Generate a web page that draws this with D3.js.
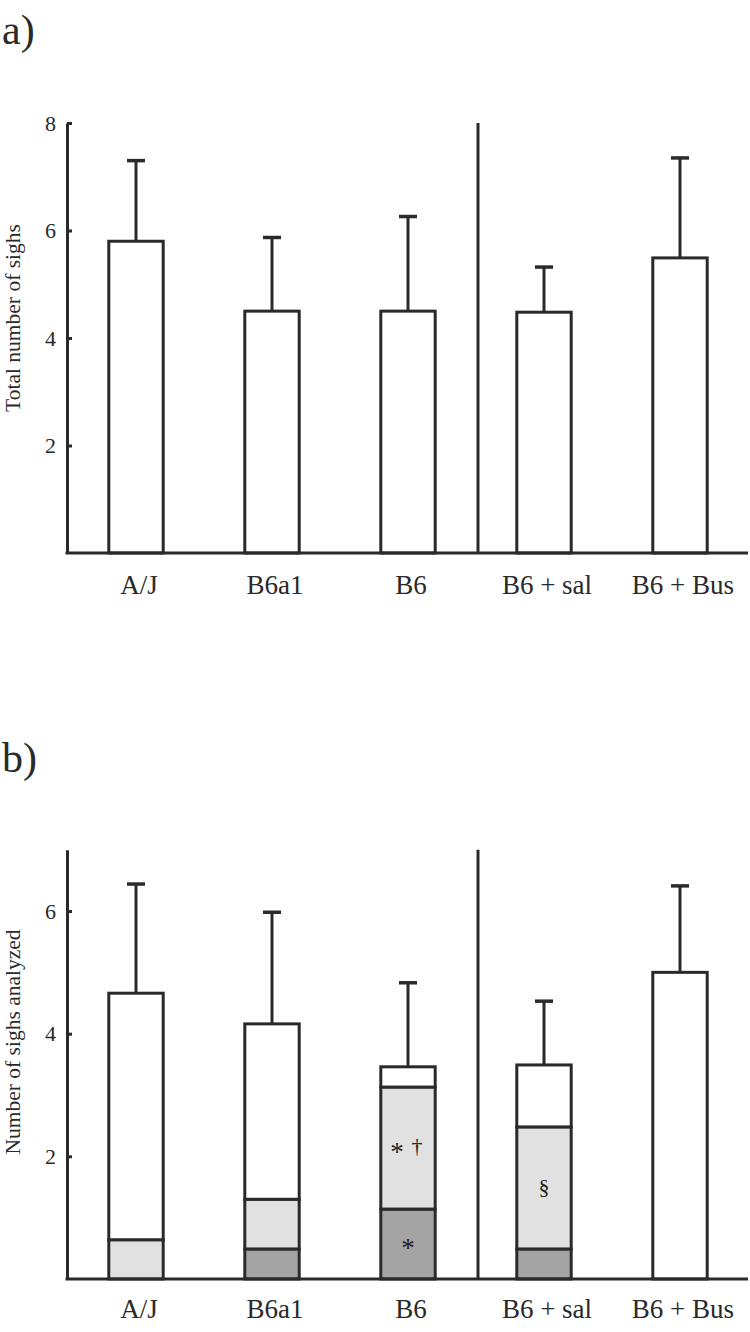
<!DOCTYPE html>
<html>
<head>
<meta charset="utf-8">
<script src="https://cdn.jsdelivr.net/npm/d3@7/dist/d3.min.js"></script>
<style>
  html, body { margin: 0; padding: 0; background: #fff; }
  svg { display: block; }
  text { font-family: "Liberation Serif", "Times New Roman", serif; fill: #2a2a2a; }
</style>
</head>
<body>
<svg id="chart" width="750" height="1332"></svg>
<script>
// ---------- data ----------
const categories = ["A/J", "B6a1", "B6", "B6 + sal", "B6 + Bus"];

// panel a: total number of sighs (mean and upper end of error bar)
const totalMean  = [5.80, 4.50, 4.50, 4.48, 5.49];
const totalUpper = [7.30, 5.87, 6.26, 5.32, 7.35];
const ticksA = [2, 4, 6, 8];

// panel b: number of sighs analyzed, stacked segments (bottom to top)
const darkSeg  = [0.00, 0.49, 1.14, 0.49, 0.00];
const lightSeg = [0.64, 0.81, 1.99, 1.99, 0.00];
const whiteSeg = [4.02, 2.86, 0.33, 1.01, 5.00];
const analyzedUpper = [6.44, 5.98, 4.83, 4.53, 6.41];
const ticksB = [2, 4, 6];

// significance marks: category, segment key, symbol, horizontal nudge
const marks = [
  { cat: "B6", seg: "light", sym: "*", dx: -11 },
  { cat: "B6", seg: "light", sym: "\u2020", dx: 9 },
  { cat: "B6", seg: "dark", sym: "*", dx: 0 },
  { cat: "B6 + sal", seg: "light", sym: "\u00A7", dx: 0 }
];

// ---------- drawing ----------
const svg = d3.select("#chart");
const INK = "#2a2a2a";
const axisX = 67;

const x = d3.scaleBand().domain(categories).range([68, 748])
  .paddingInner(0.6).paddingOuter(0.3);

function drawPanel(g, y, yTicks, title, titleY, labelY) {
  const ax = g.append("g").attr("transform", `translate(${axisX},0)`)
    .call(d3.axisLeft(y).tickValues(yTicks).tickSizeInner(-5).tickSizeOuter(0).tickPadding(11).tickFormat(d3.format("d")));
  ax.attr("font-family", null);
  ax.select(".domain").attr("stroke", INK).attr("stroke-width", 3);
  ax.selectAll(".tick line").attr("stroke", INK).attr("stroke-width", 3);
  ax.selectAll(".tick text").attr("font-size", 22).attr("fill", "#333")
    .style("font-family", '"Liberation Serif", serif');

  g.append("line").attr("x1", axisX - 1.5).attr("x2", x.range()[1])
    .attr("y1", y(0)).attr("y2", y(0)).attr("stroke", INK).attr("stroke-width", 3);

  const divX = (x("B6") + x.bandwidth() + x("B6 + sal")) / 2 + 2;
  g.append("line").attr("x1", divX).attr("x2", divX)
    .attr("y1", y(y.domain()[1])).attr("y2", y(0)).attr("stroke", INK).attr("stroke-width", 3);

  g.append("text").attr("transform", `translate(20,${titleY}) rotate(-90)`)
    .attr("text-anchor", "middle").attr("font-size", 21.5).attr("fill", "#333").text(title);

  g.selectAll("text.cat").data(categories).join("text").attr("class", "cat")
    .attr("x", d => x(d) + x.bandwidth() / 2 + 3).attr("y", labelY)
    .attr("text-anchor", "middle").attr("font-size", 27).text(d => d);
}

function drawErrors(g, y, tops, uppers) {
  const cx = i => x(categories[i]) + x.bandwidth() / 2;
  g.selectAll("line.err").data(uppers).join("line").attr("class", "err")
    .attr("x1", (d, i) => cx(i)).attr("x2", (d, i) => cx(i))
    .attr("y1", (d, i) => y(tops[i])).attr("y2", d => y(d))
    .attr("stroke", INK).attr("stroke-width", 3);
  g.selectAll("line.cap").data(uppers).join("line").attr("class", "cap")
    .attr("x1", (d, i) => cx(i) - 9).attr("x2", (d, i) => cx(i) + 9)
    .attr("y1", d => y(d)).attr("y2", d => y(d))
    .attr("stroke", INK).attr("stroke-width", 3.5);
}

// ----- panel a -----
const yA = d3.scaleLinear().domain([0, 8]).range([553, 123]);
const gA = svg.append("g");
svg.append("text").attr("x", 2).attr("y", 44).attr("font-size", 42).text("a)");
drawErrors(gA, yA, totalMean, totalUpper);
gA.selectAll("rect.bar").data(totalMean).join("rect").attr("class", "bar")
  .attr("x", (d, i) => x(categories[i])).attr("width", x.bandwidth())
  .attr("y", d => yA(d)).attr("height", d => yA(0) - yA(d))
  .attr("fill", "#fff").attr("stroke", INK).attr("stroke-width", 3);
drawPanel(gA, yA, ticksA, "Total number of sighs", 318, 594);

// ----- panel b -----
const yB = d3.scaleLinear().domain([0, 7]).range([1279, 849.7]);
const gB = svg.append("g");
svg.append("text").attr("x", 2).attr("y", 772).attr("font-size", 42).text("b)");

const rows = categories.map((c, i) => ({ cat: c, dark: darkSeg[i], light: lightSeg[i], white: whiteSeg[i] }));
const keys = ["dark", "light", "white"];
const fills = { dark: "#a4a4a4", light: "#e1e1e1", white: "#ffffff" };
const stacked = d3.stack().keys(keys)(rows);
const totalsB = rows.map(r => r.dark + r.light + r.white);

drawErrors(gB, yB, totalsB, analyzedUpper);
stacked.forEach(layer => {
  gB.selectAll(`rect.seg-${layer.key}`).data(layer.filter(d => d[1] - d[0] > 0)).join("rect")
    .attr("class", `seg-${layer.key}`)
    .attr("x", d => x(d.data.cat)).attr("width", x.bandwidth())
    .attr("y", d => yB(d[1])).attr("height", d => yB(d[0]) - yB(d[1]))
    .attr("fill", fills[layer.key]).attr("stroke", INK).attr("stroke-width", 3);
});
drawPanel(gB, yB, ticksB, "Number of sighs analyzed", 1042, 1318);

// significance marks
const symStyle = { "*": { off: 13, size: 27 }, "\u2020": { off: 5, size: 22 }, "\u00A7": { off: 6, size: 22 } };
marks.forEach(m => {
  const layer = stacked.find(l => l.key === m.seg);
  const d = layer[categories.indexOf(m.cat)];
  const mid = yB((d[0] + d[1]) / 2);
  gB.append("text").attr("x", x(m.cat) + x.bandwidth() / 2 + m.dx)
    .attr("y", mid + symStyle[m.sym].off).attr("text-anchor", "middle")
    .attr("font-size", symStyle[m.sym].size).style("fill", "#222").text(m.sym);
});
</script>
</body>
</html>
